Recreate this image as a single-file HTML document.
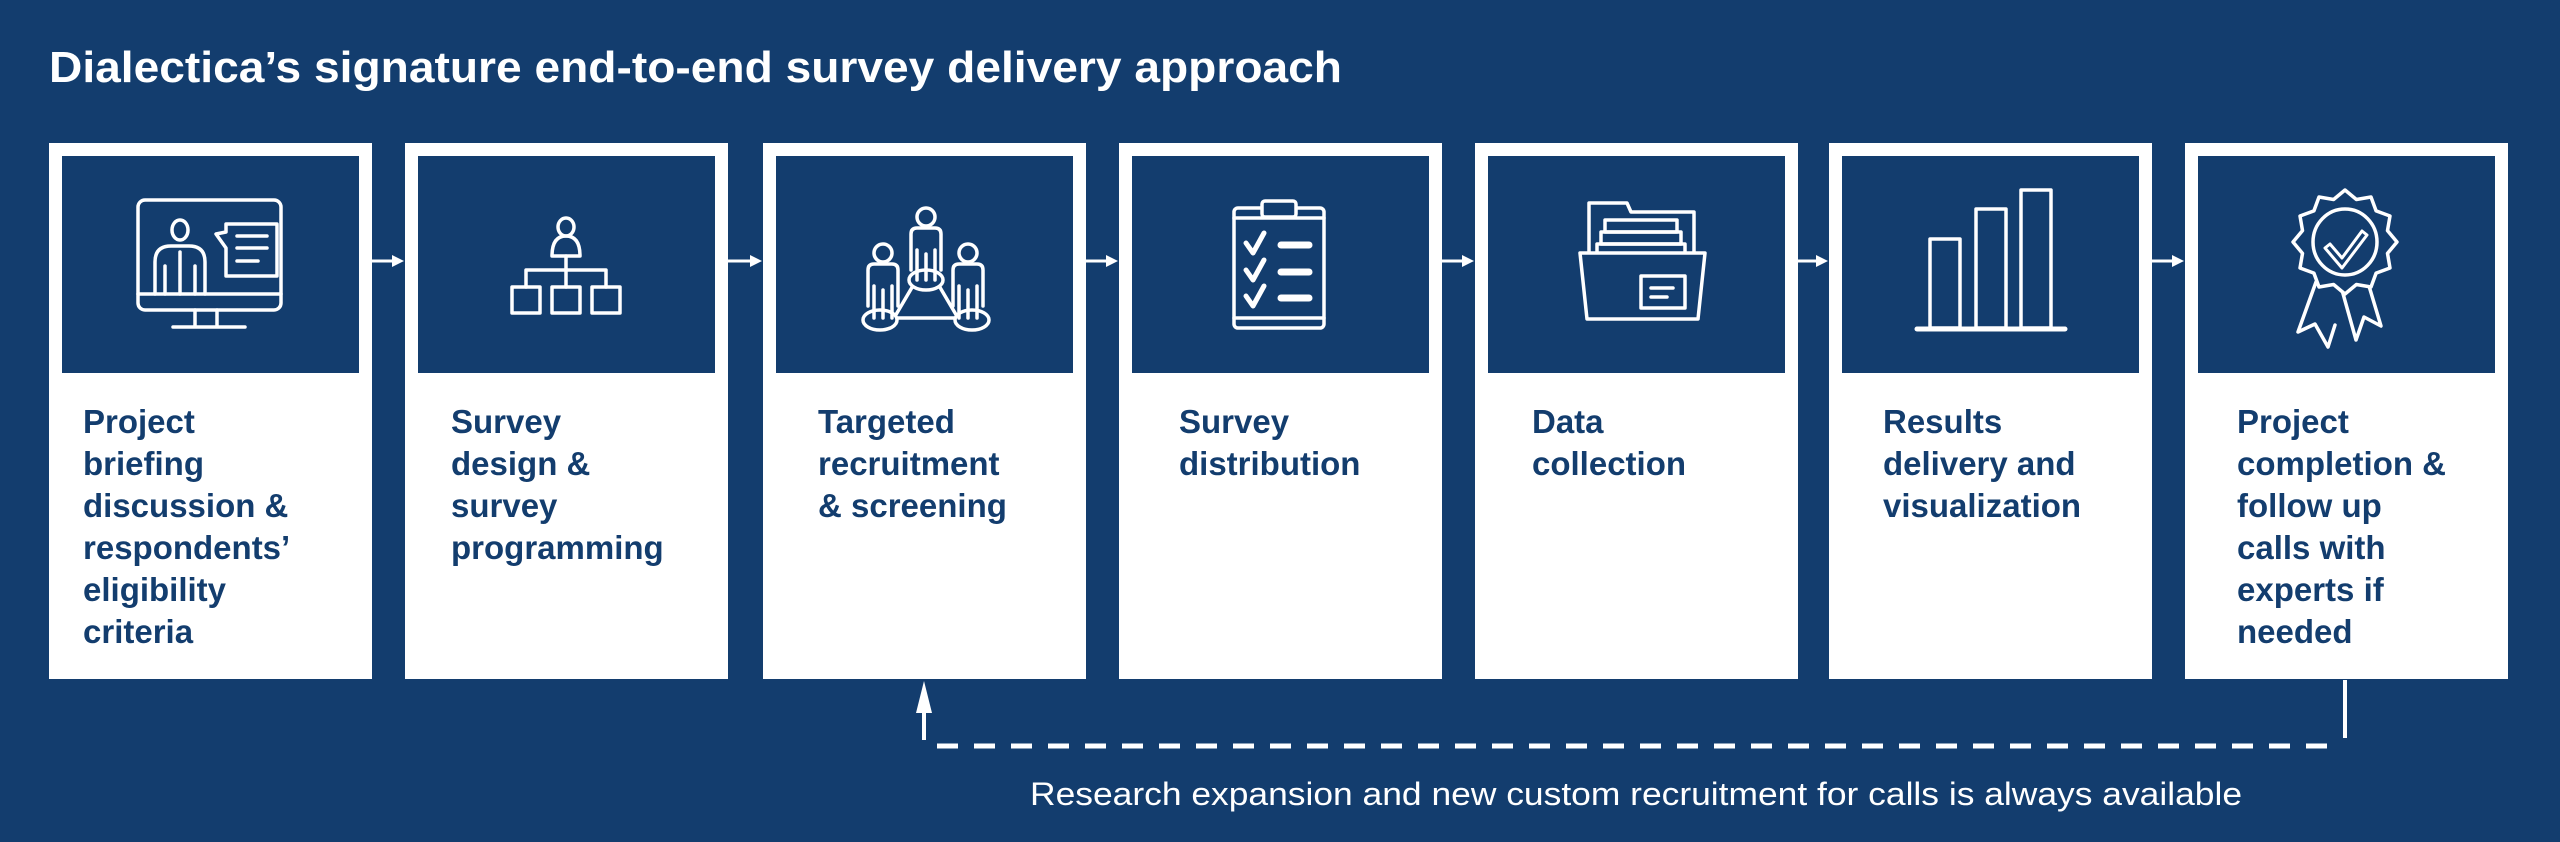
<!DOCTYPE html>
<html><head><meta charset="utf-8"><style>
html,body{margin:0;padding:0;background:#133d6e;}
svg{display:block;}
</style></head><body>
<svg width="2560" height="842" viewBox="0 0 2560 842" xmlns="http://www.w3.org/2000/svg">
<rect width="2560" height="842" fill="#133d6e"/>
<text x="49" y="82" font-family="Liberation Sans, Arial, sans-serif" font-weight="bold" font-size="44" fill="#fff" textLength="1293" lengthAdjust="spacingAndGlyphs">Dialectica’s signature end-to-end survey delivery approach</text>

<g fill="#fff">
<rect x="49" y="143" width="323" height="536"/>
<rect x="405" y="143" width="323" height="536"/>
<rect x="763" y="143" width="323" height="536"/>
<rect x="1119" y="143" width="323" height="536"/>
<rect x="1475" y="143" width="323" height="536"/>
<rect x="1829" y="143" width="323" height="536"/>
<rect x="2185" y="143" width="323" height="536"/>
</g>
<g fill="#133d6e">
<rect x="62" y="156" width="297" height="217"/>
<rect x="418" y="156" width="297" height="217"/>
<rect x="776" y="156" width="297" height="217"/>
<rect x="1132" y="156" width="297" height="217"/>
<rect x="1488" y="156" width="297" height="217"/>
<rect x="1842" y="156" width="297" height="217"/>
<rect x="2198" y="156" width="297" height="217"/>
</g>

<g stroke="#fff" stroke-width="3" fill="#fff">
<line x1="372" y1="261" x2="394" y2="261"/><polygon points="392,255 404,261 392,267" stroke="none"/>
<line x1="728" y1="261" x2="752" y2="261"/><polygon points="750,255 762,261 750,267" stroke="none"/>
<line x1="1086" y1="261" x2="1108" y2="261"/><polygon points="1106,255 1118,261 1106,267" stroke="none"/>
<line x1="1442" y1="261" x2="1464" y2="261"/><polygon points="1462,255 1474,261 1462,267" stroke="none"/>
<line x1="1798" y1="261" x2="1818" y2="261"/><polygon points="1816,255 1828,261 1816,267" stroke="none"/>
<line x1="2152" y1="261" x2="2174" y2="261"/><polygon points="2172,255 2184,261 2172,267" stroke="none"/>
</g>

<g stroke="#fff" stroke-width="3.5" fill="none" stroke-linejoin="round" stroke-linecap="round">
<rect x="138" y="200" width="143" height="110" rx="7"/>
<line x1="138" y1="294" x2="281" y2="294"/>
<line x1="195" y1="310" x2="195" y2="326"/><line x1="217" y1="310" x2="217" y2="326"/>
<line x1="173" y1="327" x2="245" y2="327"/>
<ellipse cx="180" cy="230" rx="8" ry="10"/>
<path d="M155 294 V262 q0 -16 16 -16 h18 q16 0 16 16 V294"/>
<line x1="165" y1="266" x2="165" y2="294"/><line x1="195" y1="266" x2="195" y2="294"/><line x1="180" y1="252" x2="180" y2="294"/>
<path d="M226 224 h51 v52 h-51 v-28 l-10 -14 l10 -2 z" fill="#133d6e"/>
<line x1="237" y1="236" x2="267" y2="236"/><line x1="237" y1="248" x2="267" y2="248"/><line x1="237" y1="261" x2="258" y2="261"/>

<ellipse cx="566" cy="227" rx="8" ry="9"/>
<path d="M552 256 q0 -20 14 -20 q14 0 14 20 z"/>
<line x1="566" y1="256" x2="566" y2="287"/>
<path d="M526 287 V270 H606 V287"/>
<rect x="512" y="287" width="28" height="26"/><rect x="552" y="287" width="28" height="26"/><rect x="592" y="287" width="28" height="26"/>

<line x1="914" y1="284" x2="894" y2="318"/><line x1="938" y1="284" x2="958" y2="318"/><line x1="894" y1="318" x2="955" y2="318"/>
<ellipse cx="926" cy="280" rx="17" ry="10" fill="#133d6e"/>
<ellipse cx="880" cy="320" rx="17" ry="10" fill="#133d6e"/>
<ellipse cx="972" cy="320" rx="17" ry="10" fill="#133d6e"/>
<circle cx="926" cy="217" r="9"/>
<path d="M911 270 V234 q0 -6 6 -6 h18 q6 0 6 6 V270 M917 280 V250 M935 280 V250 M926 280 V254"/>
<circle cx="883" cy="253" r="9"/>
<path d="M868 306 V270 q0 -6 6 -6 h18 q6 0 6 6 V306 M874 318 V286 M892 318 V286 M883 318 V290"/>
<circle cx="968" cy="253" r="9"/>
<path d="M953 306 V270 q0 -6 6 -6 h18 q6 0 6 6 V306 M959 318 V286 M977 318 V286 M968 318 V290"/>

<rect x="1234" y="208" width="90" height="120" rx="4"/>
<rect x="1262" y="201" width="34" height="16" rx="3" fill="#133d6e"/>
<line x1="1234" y1="218" x2="1324" y2="218"/>
<line x1="1234" y1="318" x2="1324" y2="318"/>
<path d="M1246 243 l7 10 l11 -20 M1246 270 l7 10 l11 -20 M1246 296 l7 10 l11 -20" stroke-width="5"/>
<line x1="1281" y1="245" x2="1309" y2="245" stroke-width="7"/>
<line x1="1281" y1="272" x2="1309" y2="272" stroke-width="7"/>
<line x1="1281" y1="298" x2="1309" y2="298" stroke-width="7"/>

<path d="M1589 260 V203 h38 l4 9 h63 V260"/>
<rect x="1605" y="220" width="72" height="12"/>
<rect x="1601" y="232" width="80" height="12"/>
<rect x="1597" y="244" width="88" height="16"/>
<path d="M1580 253 h125 l-7 66 h-111 z" fill="#133d6e"/>
<rect x="1641" y="276" width="44" height="32"/>
<line x1="1651" y1="288" x2="1673" y2="288"/><line x1="1651" y1="297" x2="1667" y2="297"/>

<rect x="1930" y="239" width="30" height="89"/>
<rect x="1976" y="209" width="30" height="119"/>
<rect x="2021" y="190" width="30" height="138"/>
<line x1="1917" y1="329" x2="2065" y2="329" stroke-width="5"/>

<path d="M2316 282 l-18 50 l17 -8 l13 23 l7 -22"/>
<path d="M2342 290 l14 50 l8 -23 l17 9 l-15 -50"/>
<polygon fill="#133d6e" points="2397,242 2387.5,253.4 2390,268 2376.1,273.1 2371,287 2356.4,284.5 2345,294 2333.6,284.5 2319,287 2313.9,273.1 2300,268 2302.5,253.4 2293,242 2302.5,230.6 2300,216 2313.9,210.9 2319,197 2333.6,199.5 2345,190 2356.4,199.5 2371,197 2376.1,210.9 2390,216 2387.5,230.6"/>
<ellipse cx="2345" cy="242" rx="32" ry="33"/>
<path d="M2330 244 l12 14 l20 -27 l5 4 l-25 33 l-17 -20 z" stroke-width="3"/>
</g>

<g font-family="Liberation Sans, Arial, sans-serif" font-weight="bold" font-size="33" fill="#133d6e">
<text x="83" y="433">Project</text>
<text x="83" y="475">briefing</text>
<text x="83" y="517">discussion &amp;</text>
<text x="83" y="559">respondents’</text>
<text x="83" y="601">eligibility</text>
<text x="83" y="643">criteria</text>

<text x="451" y="433">Survey</text>
<text x="451" y="475">design &amp;</text>
<text x="451" y="517">survey</text>
<text x="451" y="559">programming</text>

<text x="818" y="433">Targeted</text>
<text x="818" y="475">recruitment</text>
<text x="818" y="517">&amp; screening</text>

<text x="1179" y="433">Survey</text>
<text x="1179" y="475">distribution</text>

<text x="1532" y="433">Data</text>
<text x="1532" y="475">collection</text>

<text x="1883" y="433">Results</text>
<text x="1883" y="475">delivery and</text>
<text x="1883" y="517">visualization</text>

<text x="2237" y="433">Project</text>
<text x="2237" y="475">completion &amp;</text>
<text x="2237" y="517">follow up</text>
<text x="2237" y="559">calls with</text>
<text x="2237" y="601">experts if</text>
<text x="2237" y="643">needed</text>
</g>

<g stroke="#fff" stroke-width="4" fill="none">
<line x1="2345" y1="680" x2="2345" y2="738"/>
<line x1="924" y1="712" x2="924" y2="740"/>
<line x1="937" y1="746" x2="2340" y2="746" stroke-width="5" stroke-dasharray="21 16"/>
</g>
<polygon points="924,681 916,713 932,713" fill="#fff"/>

<text x="1636" y="805" text-anchor="middle" font-family="Liberation Sans, Arial, sans-serif" font-size="32" fill="#fff" textLength="1212" lengthAdjust="spacingAndGlyphs">Research expansion and new custom recruitment for calls is always available</text>
</svg>
</body></html>
